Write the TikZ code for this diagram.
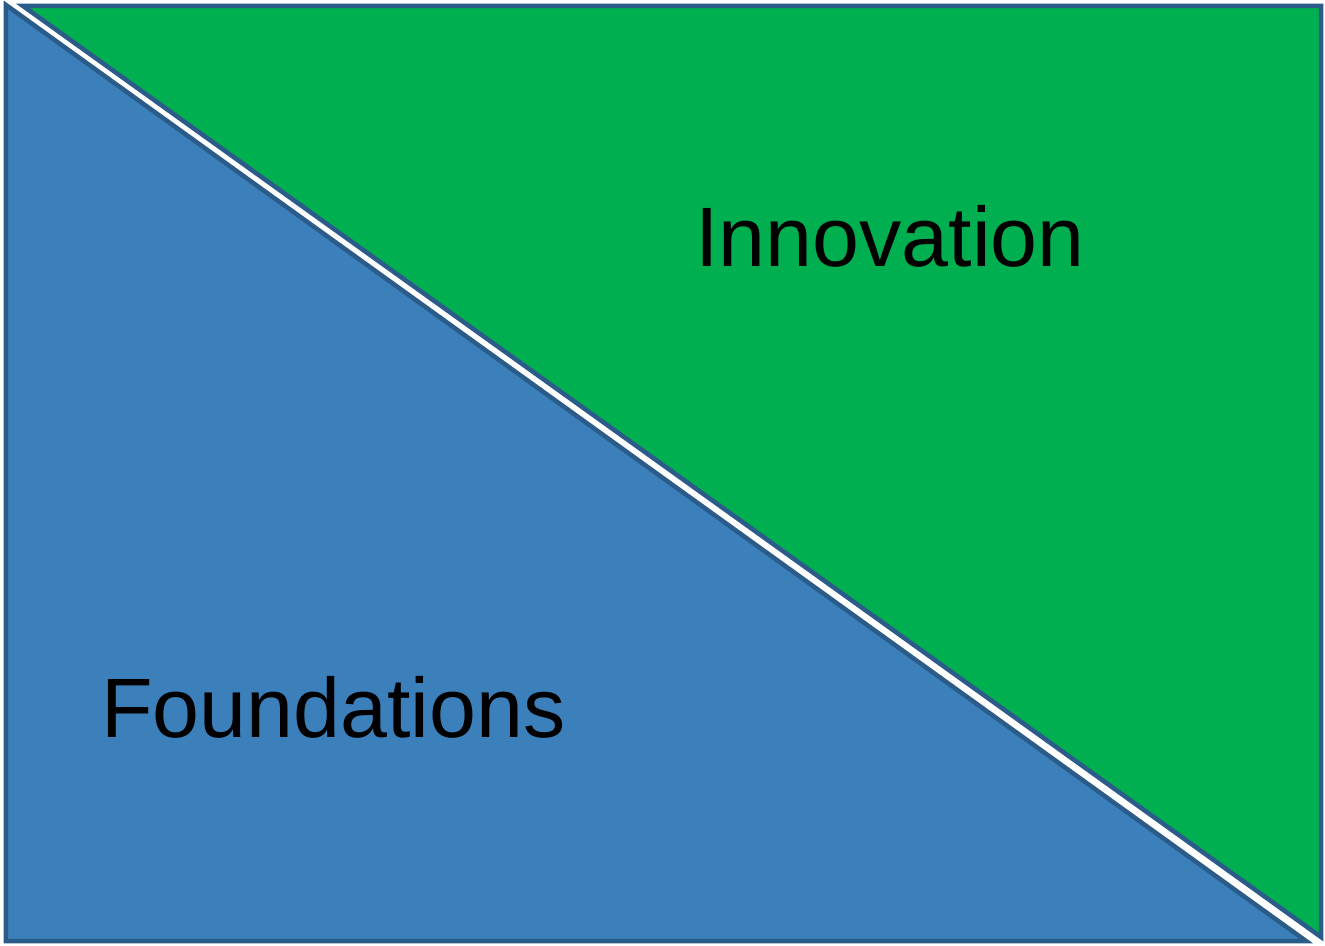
\documentclass[tikz,border=0pt]{standalone}
\usepackage{fontspec}
\setmainfont{Liberation Sans}
\definecolor{myblue}{RGB}{59, 128, 187}
\definecolor{mygreen}{RGB}{0, 175, 80}
\definecolor{myedge}{RGB}{43, 91, 137}

\begin{document}
\begin{tikzpicture}

\tikzstyle{tri} = [draw=myedge, line width=0.09cm, line join=miter]
\tikzstyle{label} = [inner sep=0, anchor=base west, font=\fontsize{48}{57}\selectfont]

\useasboundingbox (0,0) rectangle (26.5,18.9);

% =========================
% lower left triangle
% =========================
\draw[tri, fill=myblue] (0.12,18.8) -- (0.12,0.08) -- (26.12,0.08) -- cycle;
\node[label] (found) at (2.02,4.16) {Foundations};

% =========================
% upper right triangle
% =========================
\draw[tri, fill=mygreen] (0.46,18.78) -- (26.42,18.78) -- (26.42,0.16) -- cycle;
\node[label] (innov) at (13.9,13.56) {Innovation};

\end{tikzpicture}
\end{document}
